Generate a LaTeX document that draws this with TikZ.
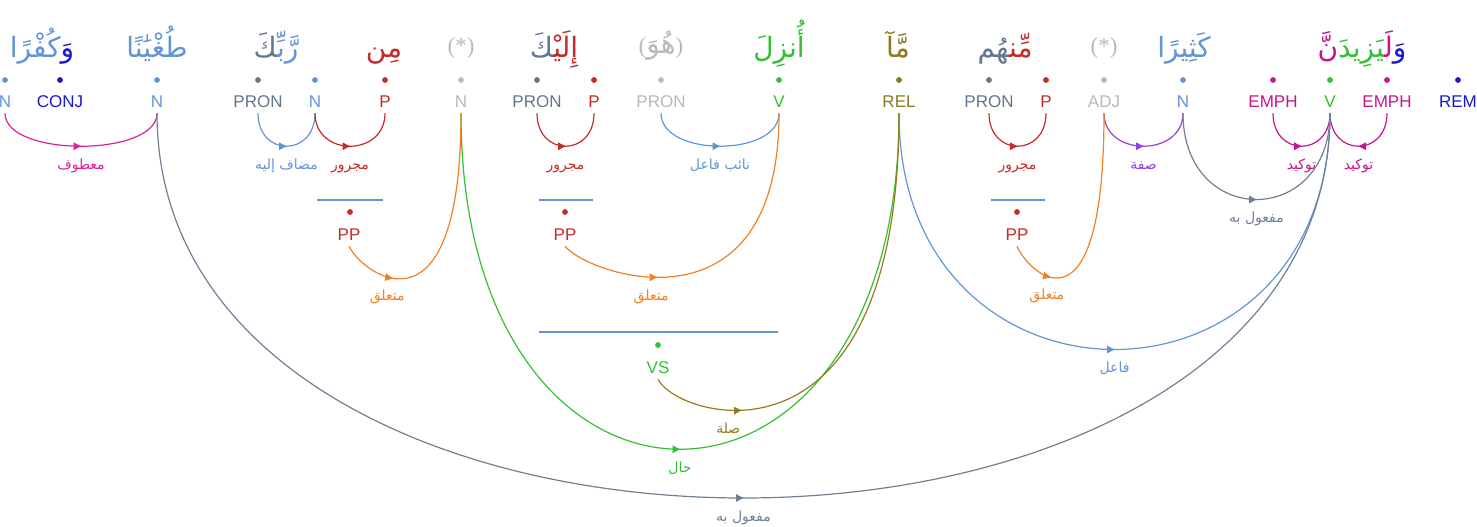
\documentclass[tikz,border=0pt]{standalone}
\usepackage{fontspec}
\setmainfont{Liberation Sans}
\newfontfamily\arabicfont[Script=Arabic]{DejaVu Sans}
\newfontfamily\starfont{Liberation Serif}
\TeXXeTstate=1
\usetikzlibrary{arrows.meta}
\usetikzlibrary{decorations.markings}
\definecolor{cN}{RGB}{98,148,214}
\definecolor{cConj}{RGB}{25,25,205}
\definecolor{cPron}{RGB}{98,118,142}
\definecolor{cP}{RGB}{200,42,42}
\definecolor{cHid}{RGB}{185,185,185}
\definecolor{cV}{RGB}{52,192,52}
\definecolor{cRel}{RGB}{138,120,30}
\definecolor{cEmph}{RGB}{200,20,140}
\definecolor{cAtf}{RGB}{222,30,160}
\definecolor{cSifa}{RGB}{150,62,218}
\definecolor{cObj}{RGB}{112,128,148}
\definecolor{cMut}{RGB}{240,128,36}
\definecolor{cSila}{RGB}{148,124,30}
\newcommand{\zwj}{^^^^200d}
\newcommand{\arlabel}[1]{\beginR#1\endR}
\tikzset{x=1pt, y=1pt,
tag/.style={font=\fontsize{17}{17}\selectfont, inner sep=0pt,
text height=12.5pt, text depth=0pt, outer ysep=6pt},
word/.style={font=\arabicfont\fontsize{28}{28}\selectfont,
inner sep=0pt, anchor=base},
star/.style={font=\starfont\fontsize{23}{23}\selectfont,
inner sep=0pt, anchor=base, text=cHid},
lbl/.style={font=\arabicfont\fontsize{14}{14}\selectfont,
inner sep=0pt, anchor=base, yshift=-23pt},
rel/.style={line width=1.2pt, postaction={decorate},
decoration={markings, mark=at position #1 with
{\arrow{Triangle[length=7.5pt,width=7.5pt]}}}},
rel/.default=0.5,
bar/.style={draw=cN, line width=1.2pt}}

\begin{document}
\begin{tikzpicture}
\useasboundingbox (0,0) rectangle (1477,-527);
\node[word] (wkufr) at (42,-57) {{\color{cN}كُفْرًا}{\color{cConj}وَ}};
\node[word, cN] (wtughyan) at (157,-57) {طُغْيَٰنًا};
\node[word] (wrabb) at (276,-57) {{\color{cPron}\zwj كَ}{\color{cN}رَّبِّ\zwj}};
\node[word, cP] (wmin) at (384,-57) {مِن};
\node[star] (wstar1) at (461,-54) {(*)};
\node[word] (wila) at (554,-57) {{\color{cPron}\zwj كَ}{\color{cP}إِلَيْ\zwj}};
\node[star] (whuwa) at (661,-54) {({\arabicfont\fontsize{28}{28}\selectfont هُوَ})};
\node[word, cV] (wunzila) at (779,-57) {أُنزِلَ};
\node[word, cRel] (wma) at (898,-57) {مَّآ};
\node[word] (wminhum) at (1005,-57) {{\color{cPron}\zwj هُم}{\color{cP}مِّن\zwj}};
\node[star] (wstar2) at (1104,-54) {(*)};
\node[word, cN] (wkathir) at (1184,-57) {كَثِيرًا};
\node[word] (wyazid) at (1362,-57) {{\color{cEmph}نَّ}{\color{cV}\zwj يَزِيدَ}{\color{cEmph}لَ\zwj}{\color{cConj}وَ}};

\node[tag, cN] (kufr) at (5,-101) {N};
\node[tag, cConj] (wa) at (60,-101) {CONJ};
\node[tag, cN] (tughyan) at (157,-101) {N};
\node[tag, cPron] (ka) at (258,-101) {PRON};
\node[tag, cN] (rabb) at (315,-101) {N};
\node[tag, cP] (min) at (385,-101) {P};
\node[tag, cHid] (hidn) at (461,-101) {N};
\node[tag, cPron] (kaa) at (537,-101) {PRON};
\node[tag, cP] (ila) at (594,-101) {P};
\node[tag, cHid] (huwa) at (661,-101) {PRON};
\node[tag, cV] (unzila) at (779,-101) {V};
\node[tag, cRel] (ma) at (899,-101) {REL};
\node[tag, cPron] (hum) at (989,-101) {PRON};
\node[tag, cP] (minhum) at (1046,-101) {P};
\node[tag, cHid] (hidadj) at (1104,-101) {ADJ};
\node[tag, cN] (kathir) at (1183,-101) {N};
\node[tag, cEmph] (lam) at (1273,-101) {EMPH};
\node[tag, cV] (yazid) at (1330,-101) {V};
\node[tag, cEmph] (nun) at (1387,-101) {EMPH};
\node[tag, cConj] (rem) at (1458,-101) {REM};

\fill[cN] (5,-80) circle (2.9);
\fill[cConj] (60,-80) circle (2.9);
\fill[cN] (157,-80) circle (2.9);
\fill[cPron] (258,-80) circle (2.9);
\fill[cN] (315,-80) circle (2.9);
\fill[cP] (385,-80) circle (2.9);
\fill[cHid] (461,-80) circle (2.9);
\fill[cPron] (537,-80) circle (2.9);
\fill[cP] (594,-80) circle (2.9);
\fill[cHid] (661,-80) circle (2.9);
\fill[cV] (779,-80) circle (2.9);
\fill[cRel] (899,-80) circle (2.9);
\fill[cPron] (989,-80) circle (2.9);
\fill[cP] (1046,-80) circle (2.9);
\fill[cHid] (1104,-80) circle (2.9);
\fill[cN] (1183,-80) circle (2.9);
\fill[cEmph] (1273,-80) circle (2.9);
\fill[cV] (1330,-80) circle (2.9);
\fill[cEmph] (1387,-80) circle (2.9);
\fill[cConj] (1458,-80) circle (2.9);

\draw[bar] (317,-200) -- (383,-200);
\fill[cP] (350,-212) circle (2.9);
\node[tag, cP] (pp1) at (349,-234) {PP};
\draw[bar] (539,-200) -- (593,-200);
\fill[cP] (565,-212) circle (2.9);
\node[tag, cP] (pp2) at (565,-234) {PP};
\draw[bar] (991,-200) -- (1045,-200);
\fill[cP] (1017,-212) circle (2.9);
\node[tag, cP] (pp3) at (1017,-234) {PP};
\draw[bar] (539,-332) -- (778,-332);
\fill[cV] (658,-345) circle (2.9);
\node[tag, cV] (vs) at (658,-367) {VS};

\draw[rel, cAtf] (kufr.south) .. controls +(0,-44) and +(0,-44) .. (tughyan.south) node[lbl, pos=0.5] {\arlabel{معطوف}};
\draw[rel, cN] (ka.south) .. controls +(0,-44) and +(0,-44) .. (rabb.south) node[lbl, pos=0.5] {\arlabel{مضاف إليه}};
\draw[rel, cP] (rabb.south) .. controls +(0,-44) and +(0,-44) .. (min.south) node[lbl, pos=0.5] {\arlabel{مجرور}};
\draw[rel, cP] (kaa.south) .. controls +(0,-44) and +(0,-44) .. (ila.south) node[lbl, pos=0.5] {\arlabel{مجرور}};
\draw[rel, cN] (huwa.south) .. controls +(0,-44) and +(0,-44) .. (unzila.south) node[lbl, pos=0.5] {\arlabel{نائب فاعل}};
\draw[rel, cP] (hum.south) .. controls +(0,-44) and +(0,-44) .. (minhum.south) node[lbl, pos=0.5] {\arlabel{مجرور}};
\draw[rel, cSifa] (hidadj.south) .. controls +(0,-44) and +(0,-44) .. (kathir.south) node[lbl, pos=0.5] {\arlabel{صفة}};
\draw[rel, cEmph] (lam.south) .. controls +(0,-44) and +(0,-44) .. (yazid.south) node[lbl, pos=0.5] {\arlabel{توكيد}};
\draw[rel, cEmph] (nun.south) .. controls +(0,-44) and +(0,-44) .. (yazid.south) node[lbl, pos=0.5] {\arlabel{توكيد}};
\draw[rel, cObj] (kathir.south) .. controls +(0,-115) and +(0,-115) .. (yazid.south) node[lbl, pos=0.5] {\arlabel{مفعول به}};
\draw[rel, cN] (ma.south) .. controls +(0,-315) and +(0,-315) .. (yazid.south) node[lbl, pos=0.5] {\arlabel{فاعل}};
\draw[rel, cObj] (tughyan.south) .. controls +(0,-513) and +(0,-513) .. (yazid.south) node[lbl, pos=0.5] {\arlabel{مفعول به}};
\draw[rel, cV] (hidn.south) .. controls +(0,-448) and +(0,-448) .. (ma.south) node[lbl, pos=0.5] {\arlabel{حال}};
\draw[rel=0.22, cMut] (pp1.south) .. controls +(15,-30) and +(0,-230) .. (hidn.south) node[lbl, pos=0.35] {\arlabel{متعلق}};
\draw[rel=0.3, cMut] (pp2.south) .. controls +(25,-30) and +(0,-225) .. (unzila.south) node[lbl, pos=0.4] {\arlabel{متعلق}};
\draw[rel=0.2, cMut] (pp3.south) .. controls +(12,-28) and +(0,-230) .. (hidadj.south) node[lbl, pos=0.35] {\arlabel{متعلق}};
\draw[rel=0.2, cSila] (vs.south) .. controls +(20,-40) and +(0,-370) .. (ma.south) node[lbl, pos=0.33] {\arlabel{صلة}};
\end{tikzpicture}
\end{document}
